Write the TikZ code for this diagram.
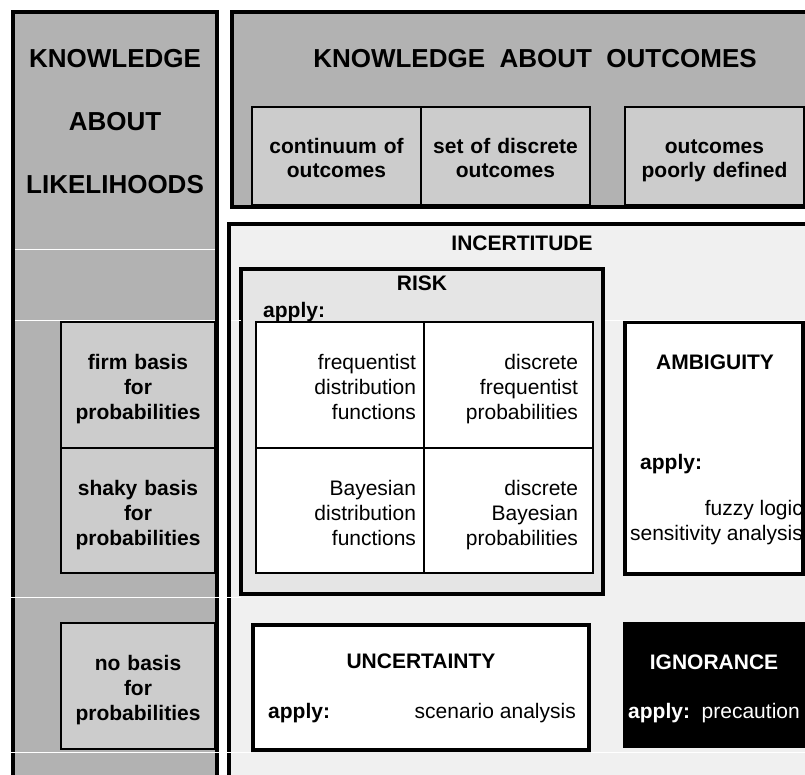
\documentclass[tikz,border=0pt]{standalone}
\usepackage{fontspec}
\setmainfont{Liberation Sans}
\usetikzlibrary{positioning}

\definecolor{panelgray}{gray}{0.70}
\definecolor{cellgray}{gray}{0.80}
\definecolor{incertgray}{gray}{0.94}
\definecolor{riskgray}{gray}{0.90}

\begin{document}
\begin{tikzpicture}[x=1pt, y=-1pt, node distance=0pt and 0pt,
    panel/.style={rectangle, draw, line width=4pt, fill=panelgray, outer sep=0pt, inner sep=0pt, anchor=north west},
    cellstrut/.style={execute at begin node={\rule{0pt}{24pt}}, execute at end node={\rule[-5pt]{0pt}{5pt}}},
    basiscell/.style={rectangle, draw, line width=2pt, fill=cellgray, outer sep=0pt, inner xsep=7pt, text width=140pt, anchor=north west, align=center, cellstrut, font=\fontsize{21}{25}\selectfont\bfseries},
    outcomecell/.style={rectangle, draw, line width=2pt, fill=cellgray, outer sep=0pt, inner xsep=7pt, minimum height=98pt, anchor=north west, align=center, cellstrut, font=\fontsize{21}{24}\selectfont\bfseries},
    riskcell/.style={rectangle, draw, line width=2pt, fill=white, outer sep=0pt, anchor=north west, align=right, cellstrut, font=\fontsize{21}{25}\selectfont},
    heading/.style={inner sep=0pt, align=center, font=\fontsize{26}{63}\selectfont\bfseries},
    boldtext/.style={inner sep=0pt, align=center, font=\fontsize{21}{25}\selectfont\bfseries},
    normaltext/.style={inner sep=0pt, align=right, font=\fontsize{21}{25}\selectfont},
    gapline/.style={white, line width=1pt}]

    \clip (0,0) rectangle (805,775);

    % Knowledge about likelihoods
    \node (likepanel) [panel, minimum width=204pt, minimum height=800pt] at (13,12) {};
    \node (likehead) [heading] at (115,122) {KNOWLEDGE\\ABOUT\\LIKELIHOODS};
    \node (firm) [basiscell, minimum height=126pt] at (61,322) {firm basis\\for\\probabilities};
    \node (shaky) [basiscell, minimum height=125pt, below=of firm] {shaky basis\\for\\probabilities};
    \node (nobasis) [basiscell, minimum height=126pt] at (61,623) {no basis\\for\\probabilities};

    % Knowledge about outcomes
    \node (outpanel) [panel, minimum width=600pt, minimum height=195pt] at (232,12) {};
    \node (outhead) [heading] at (535,59) {KNOWLEDGE~~ABOUT~~OUTCOMES};
    \node (continuum) [outcomecell, text width=155pt] at (252,107) {continuum of\\outcomes};
    \node (setdiscrete) [outcomecell, text width=155pt, right=of continuum] {set of discrete\\outcomes};
    \node (poorly) [outcomecell, text width=165pt] at (625,107) {outcomes\\poorly defined};

    % Incertitude
    \node (incert) [panel, fill=incertgray, minimum width=600pt, minimum height=600pt] at (229,224) {};
    \node (incerthead) [boldtext] at (522,243.5) {INCERTITUDE};

    % Risk
    \node (risk) [panel, fill=riskgray, minimum width=362pt, minimum height=325pt] at (241,269) {};
    \node (riskhead) [boldtext] at (422,283.5) {RISK};
    \node (riskapply) [boldtext, anchor=base west] at (263,317) {apply:};
    \node (freqdist) [riskcell, text width=152pt, inner xsep=8pt, minimum height=126pt] at (256,322) {frequentist\\distribution\\functions};
    \node (freqprob) [riskcell, text width=139pt, inner xsep=15pt, minimum height=126pt, right=of freqdist] {discrete\\frequentist\\probabilities};
    \node (bayesdist) [riskcell, text width=152pt, inner xsep=8pt, minimum height=125pt, below=of freqdist] {Bayesian\\distribution\\functions};
    \node (bayesprob) [riskcell, text width=139pt, inner xsep=15pt, minimum height=125pt, right=of bayesdist] {discrete\\Bayesian\\probabilities};

    % Ambiguity
    \node (ambig) [panel, fill=white, minimum width=178pt, minimum height=252pt] at (625,322) {};
    \node (ambighead) [boldtext] at (715,362.5) {AMBIGUITY};
    \node (ambigapply) [boldtext, anchor=base west] at (640,469) {apply:};
    \node (ambigtools) [normaltext, anchor=east] at (803,523) {fuzzy logic\\sensitivity analysis};

    % Uncertainty
    \node (uncert) [panel, fill=white, minimum width=336pt, minimum height=125pt] at (253,625) {};
    \node (uncerthead) [boldtext] at (421,661.5) {UNCERTAINTY};
    \node (uncertapply) [boldtext, anchor=base west] at (268,718) {apply:};
    \node (uncerttools) [normaltext, anchor=base east] at (576,718) {scenario analysis};

    % Ignorance
    \node (ignor) [panel, draw=none, fill=black, minimum width=190pt, minimum height=126pt] at (623,622) {};
    \node (ignorhead) [boldtext, white] at (714,662.5) {IGNORANCE};
    \node (ignorapply) [normaltext, white, anchor=base west] at (628,718) {\bfseries apply:\normalfont~~precaution};

    % thin white cell lines
    \draw [gapline] (15,250) -- (215,250);
    \draw [gapline] (15,320) -- (215,320);
    \draw [gapline] (231,320) -- (241,320);
    \draw [gapline] (605,320) -- (805,320);
    \draw [gapline] (11,597) -- (241,597);
    \draw [gapline] (11,752.5) -- (251,752.5);
    \draw [gapline] (591,752.5) -- (805,752.5);

\end{tikzpicture}
\end{document}
